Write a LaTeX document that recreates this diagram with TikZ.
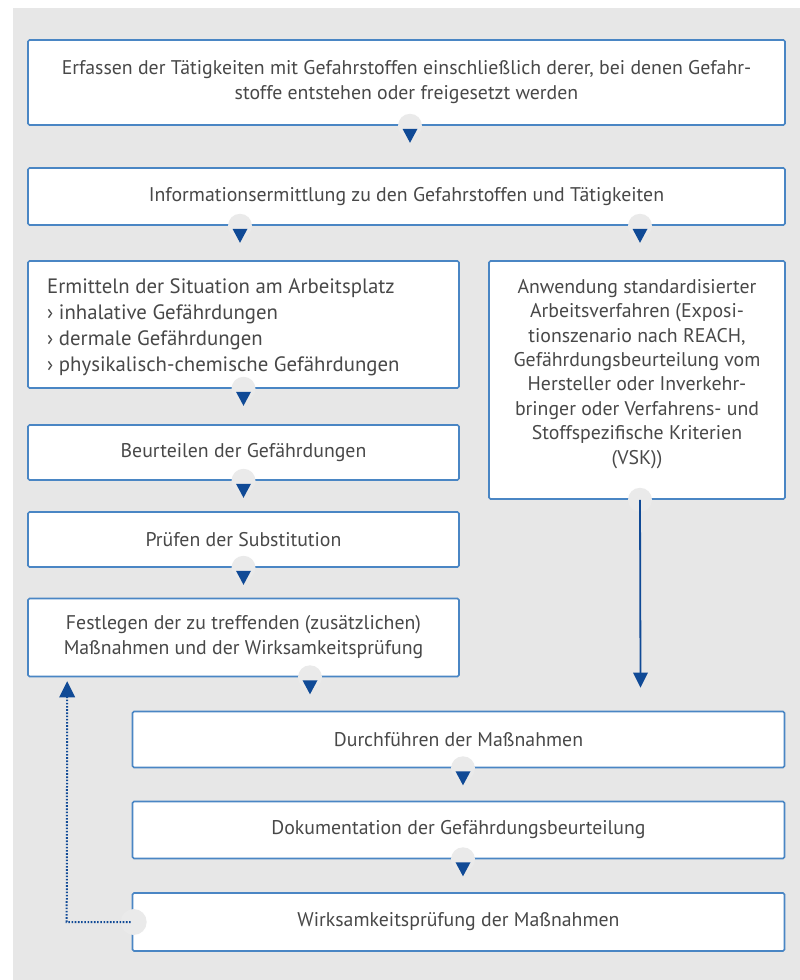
\documentclass[tikz,border=0pt]{standalone}
\usepackage{fontspec}
\setmainfont{PT Sans}
\usetikzlibrary{calc}
\definecolor{bg}{RGB}{231,231,231}
\definecolor{notchc}{RGB}{234,234,234}
\definecolor{bord}{RGB}{74,134,196}
\definecolor{tric}{RGB}{16,74,150}
\definecolor{txt}{RGB}{72,72,72}
\newcommand\mynotch[1]{%
  \fill[notchc] (#1) circle (12);
  \fill[tric] ($(#1)+(-7.5,3)$) -- ++(15,0) -- ++(-7.5,14) -- cycle;}
\begin{document}
\begin{tikzpicture}[x=1pt,y=-1pt,
  box/.style={draw=bord,line width=1.6pt,fill=white,rounded corners=1.5pt,
    text=txt,font=\fontsize{19.8}{25}\selectfont,align=center,inner sep=0pt},
  lbl/.style={text=txt,font=\fontsize{19.8}{24.4}\selectfont,inner sep=0pt},
  conn/.style={draw=tric,line width=1.8pt}]
\useasboundingbox (0,0) rectangle (800,980);
\fill[bg] (13,8) rectangle (800,980);
% boxes
\node[box,minimum width=757pt,minimum height=85pt] (b1) at (406.5,82.5)
  {Erfassen der Tätigkeiten mit Gefahrstoffen einschließlich derer, bei denen Gefahr-\\stoffe entstehen oder freigesetzt werden};
\node[box,minimum width=757pt,minimum height=57pt] (b2) at (406.5,196.5)
  {Informationsermittlung zu den Gefahrstoffen und Tätigkeiten};
\node[box,minimum width=431pt,minimum height=127pt] (b3) at (243.5,324.5) {};
\node[lbl,align=left,anchor=north west,font=\fontsize{20.8}{26}\selectfont] (t3) at (47,278)
  {Ermitteln der Situation am Arbeitsplatz\\
   › inhalative Gefährdungen\\
   › dermale Gefährdungen\\
   › physikalisch-chemische Gefährdungen};
\node[box,minimum width=296pt,minimum height=238pt] (bR) at (637,380) {};
\node[lbl,align=center,anchor=north] (tR) at (637,279)
  {Anwendung standardisierter\\Arbeitsverfahren (Exposi-\\tionszenario nach REACH,\\Gefährdungsbeurteilung vom\\Hersteller oder Inverkehr-\\bringer oder Verfahrens- und\\Stoffspezifische Kriterien\\(VSK))};
\node[box,minimum width=431pt,minimum height=55pt] (b4) at (243.5,452.5)
  {Beurteilen der Gefährdungen};
\node[box,minimum width=431pt,minimum height=55pt] (b5) at (243.5,539.5)
  {Prüfen der Substitution};
\node[box,minimum width=431pt,minimum height=78pt] (b6) at (243.5,637.5)
  {Festlegen der zu treffenden (zusätzlichen)\\Maßnahmen und der Wirksamkeitsprüfung};
\node[box,minimum width=652pt,minimum height=56pt] (b7) at (458.5,739.5)
  {Durchführen der Maßnahmen};
\node[box,minimum width=652pt,minimum height=57pt] (b8) at (458.5,830)
  {Dokumentation der Gefährdungsbeurteilung};
\node[box,minimum width=652pt,minimum height=58pt] (b9) at (458.5,922)
  {Wirksamkeitsprüfung der Maßnahmen};
% notches with triangles
\mynotch{$(b1.south)+(3.5,0)$}
\mynotch{$(b2.south)+(-166.5,0)$}
\mynotch{$(b2.south)+(233.5,0)$}
\mynotch{b3.south}
\mynotch{b4.south}
\mynotch{b5.south}
\mynotch{$(b6.south)+(66.5,0)$}
\mynotch{$(b7.south)+(4.5,0)$}
\mynotch{$(b8.south)+(4.5,0)$}
% right long arrow
\coordinate (rEnd) at ($(b7.north)+(182,-23)$);
\fill[notchc] ($(bR.south)+(3,0)$) circle (12);
\draw[conn] ($(bR.south)+(3,0)$) -- ($(rEnd)+(0,-12)$);
\fill[tric] ($(rEnd)+(-7.5,-15)$) -- ++(15,0) -- (rEnd) -- cycle;
% dotted feedback
\fill[notchc] (b9.west) ++(2,0) circle (13);
\coordinate (fbCorner) at ($(b9.west)+(-65,0)$);
\coordinate (fbTip) at ($(b6.south west)+(40,4)$);
\draw[tric,line width=2pt,dash pattern=on 1.6pt off 1.6pt] ($(b9.west)+(-1,0)$) -- (fbCorner) -- ($(fbTip)+(0,15)$);
\fill[tric] ($(fbTip)+(-8,16)$) -- ++(16,0) -- (fbTip) -- cycle;
\end{tikzpicture}
\end{document}
